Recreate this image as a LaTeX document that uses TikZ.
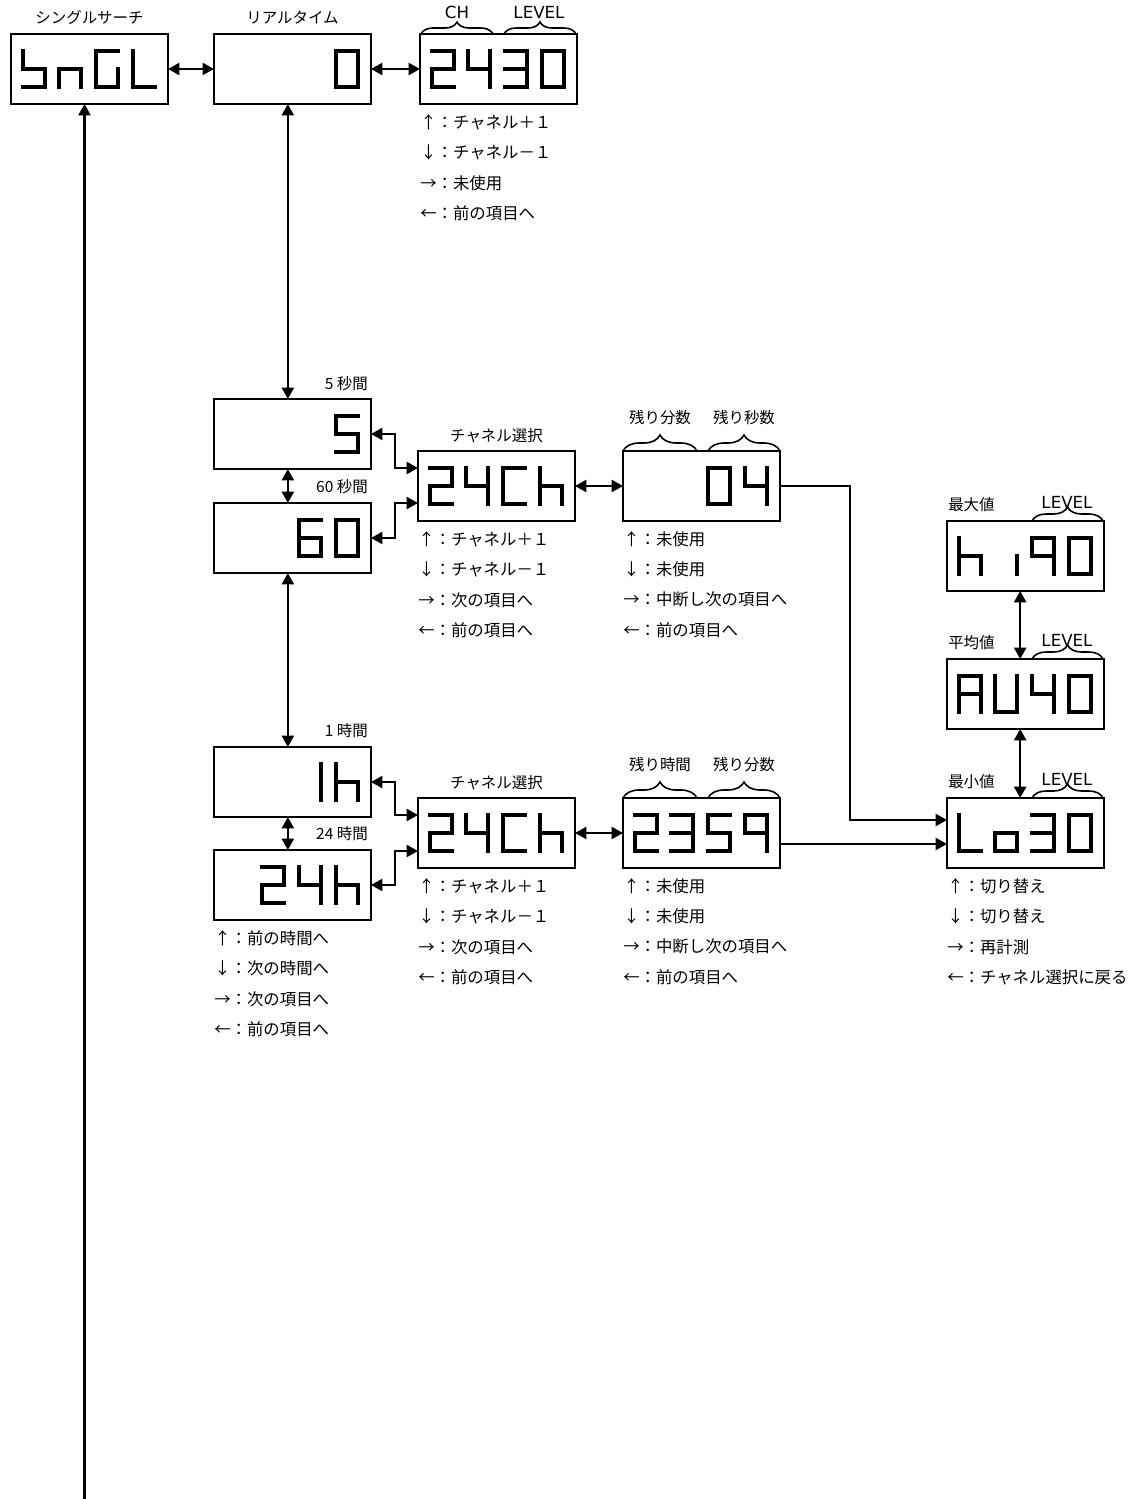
\documentclass[tikz,border=0pt]{standalone}
\usepackage{fontspec}
\setmainfont{Noto Sans CJK JP}
\newfontfamily\latfont{DejaVu Sans}
\usetikzlibrary{arrows.meta,calc,decorations.pathreplacing}

% seven-segment geometry in px (cell 26 x 40)
\def\SEGa{(2,2)--(24,2)}
\def\SEGb{(24,2)--(24,20)}
\def\SEGc{(24,20)--(24,38)}
\def\SEGd{(2,38)--(24,38)}
\def\SEGe{(2,20)--(2,38)}
\def\SEGf{(2,2)--(2,20)}
\def\SEGg{(2,20)--(24,20)}
\newcommand\sseg[3]{%
  \begin{scope}[shift={($(#1.north west)+(#2,15)$)}]
    \foreach \s in {#3}{\edef\tmp{\noexpand\draw[segline] \csname SEG\s\endcsname;}\tmp}
  \end{scope}}
\newcommand\legendlines[5]{%
  \node[leg, anchor=west] (#1-l1) at ($(#1.south west)+(0,18)$) {#2};
  \node[leg, anchor=west] (#1-l2) at ($(#1.south west)+(0,48.4)$) {#3};
  \node[leg, anchor=west] (#1-l3) at ($(#1.south west)+(0,78.8)$) {#4};
  \node[leg, anchor=west] (#1-l4) at ($(#1.south west)+(0,109.2)$) {#5};}

\tikzset{
  box/.style={draw, line width=1.7pt, minimum width=117.75pt, minimum height=52.5pt, inner sep=0pt, outer sep=0pt},
  segline/.style={line width=3pt, line cap=rect},
  conn/.style={line width=1.7pt},
  tip/.style={},
  arr/.style={conn, -{Triangle[length=8.5pt,width=9pt]}},
  dbl/.style={conn, {Triangle[length=8.5pt,width=9pt]}-{Triangle[length=8.5pt,width=9pt]}},
  lbl/.style={inner sep=0pt, font=\fontsize{11.6pt}{13pt}\selectfont},
  leg/.style={inner sep=0pt, font=\fontsize{12.3pt}{14pt}\selectfont},
  lat/.style={inner sep=0pt, font=\latfont\fontsize{12.5pt}{14pt}\selectfont},
  brc/.style={decorate, decoration={brace, amplitude=#1}, line width=1.2pt},
}

\begin{document}
\begin{tikzpicture}[x=0.75pt, y=-0.75pt]
\useasboundingbox (0,0) rectangle (1137,1499);

% boxes
\node[box] (sngl)   at (89.5,69) {};
\node[box] (rt)     at (292.5,69) {};
\node[box] (ch0)    at (498.5,69) {};
\node[box] (s5)     at (292.5,434) {};
\node[box] (s60)    at (292.5,538) {};
\node[box] (h1)     at (292.5,782) {};
\node[box] (h24)    at (292.5,885) {};
\node[box] (chsel1) at (496.5,486) {};
\node[box] (rem1)   at (701.5,486) {};
\node[box] (chsel2) at (496.5,833) {};
\node[box] (rem2)   at (701.5,833) {};
\node[box] (hi)     at (1025.5,556) {};
\node[box] (av)     at (1025.5,694) {};
\node[box] (lo)     at (1025.5,833) {};

% seven-segment contents
\sseg{sngl}{10}{f,g,c,d}\sseg{sngl}{46}{e,g,c}\sseg{sngl}{83}{a,f,e,d,c}\sseg{sngl}{120}{f,e,d}
\sseg{rt}{120}{a,b,c,d,e,f}
\sseg{ch0}{10}{a,b,g,e,d}\sseg{ch0}{46}{f,g,b,c}\sseg{ch0}{83}{a,b,g,c,d}\sseg{ch0}{120}{a,b,c,d,e,f}
\sseg{s5}{120}{a,f,g,c,d}
\sseg{s60}{83}{a,f,g,e,d,c}\sseg{s60}{120}{a,b,c,d,e,f}
\sseg{h1}{83}{b,c}\sseg{h1}{120}{f,e,g,c}
\sseg{h24}{46}{a,b,g,e,d}\sseg{h24}{83}{f,g,b,c}\sseg{h24}{120}{f,e,g,c}
\sseg{chsel1}{10}{a,b,g,e,d}\sseg{chsel1}{46}{f,g,b,c}\sseg{chsel1}{83}{a,f,e,d}\sseg{chsel1}{120}{f,e,g,c}
\sseg{chsel2}{10}{a,b,g,e,d}\sseg{chsel2}{46}{f,g,b,c}\sseg{chsel2}{83}{a,f,e,d}\sseg{chsel2}{120}{f,e,g,c}
\sseg{rem1}{83}{a,b,c,d,e,f}\sseg{rem1}{120}{f,g,b,c}
\sseg{rem2}{10}{a,b,g,e,d}\sseg{rem2}{46}{a,b,g,c,d}\sseg{rem2}{83}{a,f,g,c,d}\sseg{rem2}{120}{a,b,c,f,g}
\sseg{hi}{10}{f,e,g,c}\sseg{hi}{46}{c}\sseg{hi}{83}{a,b,c,f,g}\sseg{hi}{120}{a,b,c,d,e,f}
\sseg{av}{10}{a,b,c,e,f,g}\sseg{av}{46}{b,c,d,e,f}\sseg{av}{83}{f,g,b,c}\sseg{av}{120}{a,b,c,d,e,f}
\sseg{lo}{10}{f,e,d}\sseg{lo}{46}{g,c,d,e}\sseg{lo}{83}{a,b,g,c,d}\sseg{lo}{120}{a,b,c,d,e,f}

% labels
\node[lbl] (t-sngl) at ($(sngl.north)+(0,-16)$) {シングルサーチ};
\node[lbl] (t-rt) at ($(rt.north)+(0,-16)$) {リアルタイム};
\draw[brc=9pt] ($(ch0.north west)+(1,0)$) -- ($(ch0.north west)+(73,0)$);
\draw[brc=9pt] ($(ch0.north west)+(84,0)$) -- ($(ch0.north west)+(156,0)$);
\node[lat] (t-ch) at ($(ch0.north west)+(37,-22)$) {CH};
\node[lat] (t-lv0) at ($(ch0.north west)+(119,-22)$) {LEVEL};

\node[lbl, anchor=east] (t-s5) at ($(s5.north east)+(-3,-15)$) {5 秒間};
\node[lbl, anchor=east] (t-s60) at ($(s60.north east)+(-3,-16)$) {60 秒間};
\node[lbl, anchor=east] (t-h1) at ($(h1.north east)+(-3,-16)$) {1 時間};
\node[lbl, anchor=east] (t-h24) at ($(h24.north east)+(-3,-16)$) {24 時間};
\node[lbl] (t-cs1) at ($(chsel1.north)+(0,-15)$) {チャネル選択};
\node[lbl] (t-cs2) at ($(chsel2.north)+(0,-15)$) {チャネル選択};

\draw[brc=12pt] ($(rem1.north west)+(0,0)$) -- ($(rem1.north west)+(74,0)$);
\draw[brc=12pt] ($(rem1.north west)+(85,0)$) -- ($(rem1.north west)+(157,0)$);
\node[lbl] (t-r1a) at ($(rem1.north west)+(37,-33)$) {残り分数};
\node[lbl] (t-r1b) at ($(rem1.north west)+(121,-33)$) {残り秒数};
\draw[brc=12pt] ($(rem2.north west)+(0,0)$) -- ($(rem2.north west)+(74,0)$);
\draw[brc=12pt] ($(rem2.north west)+(85,0)$) -- ($(rem2.north west)+(157,0)$);
\node[lbl] (t-r2a) at ($(rem2.north west)+(37,-33)$) {残り時間};
\node[lbl] (t-r2b) at ($(rem2.north west)+(121,-33)$) {残り分数};

\foreach \b/\t in {hi/最大値, av/平均値, lo/最小値}{
  \draw[brc=10.5pt] ($(\b.north west)+(85,0)$) -- ($(\b.north west)+(156,0)$);
  \node[lbl, anchor=west] (t-\b) at ($(\b.north west)+(1,-16)$) {\t};
  \node[lat] (t-\b-lv) at ($(\b.north west)+(120,-19)$) {LEVEL};
}

% legends
\legendlines{ch0}{↑：チャネル＋１}{↓：チャネル－１}{→：未使用}{←：前の項目へ}
\legendlines{chsel1}{↑：チャネル＋１}{↓：チャネル－１}{→：次の項目へ}{←：前の項目へ}
\legendlines{chsel2}{↑：チャネル＋１}{↓：チャネル－１}{→：次の項目へ}{←：前の項目へ}
\legendlines{rem1}{↑：未使用}{↓：未使用}{→：中断し次の項目へ}{←：前の項目へ}
\legendlines{rem2}{↑：未使用}{↓：未使用}{→：中断し次の項目へ}{←：前の項目へ}
\legendlines{h24}{↑：前の時間へ}{↓：次の時間へ}{→：次の項目へ}{←：前の項目へ}
\legendlines{lo}{↑：切り替え}{↓：切り替え}{→：再計測}{←：チャネル選択に戻る}

% connectors
\draw[dbl] (sngl.east) -- (rt.west);
\draw[dbl] (rt.east) -- (ch0.west);
\draw[dbl] ([xshift=-3.5pt]rt.south) -- ([xshift=-3.5pt]s5.north);
\draw[dbl] ([xshift=-3.5pt]s5.south) -- ([xshift=-3.5pt]s60.north);
\draw[dbl] ([xshift=-3.5pt]s60.south) -- ([xshift=-3.5pt]h1.north);
\draw[dbl] ([xshift=-3.5pt]h1.south) -- ([xshift=-3.5pt]h24.north);
\draw[dbl] (s5.east) -- ++(24,0) |- ($(chsel1.west)+(0,-18)$);
\draw[dbl] (s60.east) -- ++(24,0) |- ($(chsel1.west)+(0,17)$);
\draw[dbl] (h1.east) -- ++(24,0) |- ($(chsel2.west)+(0,-18)$);
\draw[dbl] (h24.east) -- ++(24,0) |- ($(chsel2.west)+(0,18)$);
\draw[dbl] (chsel1.east) -- (rem1.west);
\draw[dbl] (chsel2.east) -- (rem2.west);
\draw[arr] (rem1.east) -- ++(70,0) |- ($(lo.west)+(0,-13)$);
\draw[arr] ($(rem2.east)+(0,11)$) -- ($(lo.west)+(0,11)$);
\draw[dbl] ([xshift=-4pt]hi.south) -- ([xshift=-4pt]av.north);
\draw[dbl] ([xshift=-4pt]av.south) -- ([xshift=-4pt]lo.north);
\coordinate (bot) at (84.5,1499);
\draw[arr] (bot) -- (bot |- sngl.south);
\end{tikzpicture}
\end{document}
